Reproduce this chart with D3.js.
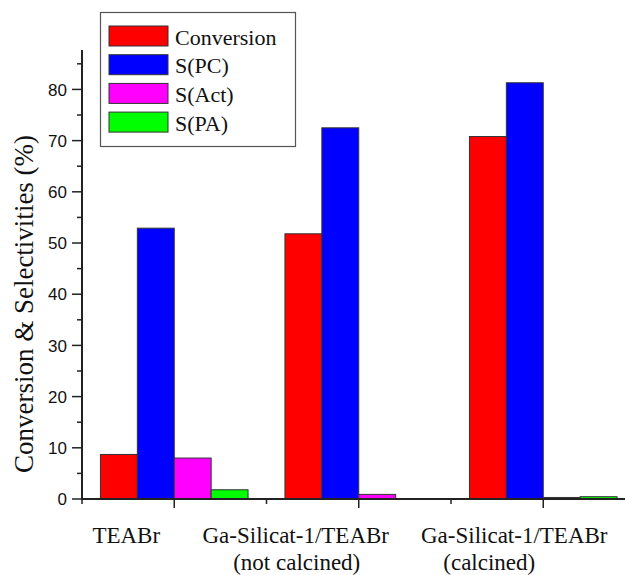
<!DOCTYPE html>
<html>
<head>
<meta charset="utf-8">
<script src="https://cdn.jsdelivr.net/npm/d3@7"></script>
<style>
  html, body { margin: 0; padding: 0; background: #fff; }
  svg { display: block; }
  .serif { font-family: "Liberation Serif", "Times New Roman", Times, serif; }
  .sans { font-family: "Liberation Sans", Arial, Helvetica, sans-serif; }
</style>
</head>
<body>
<svg id="chart" width="625" height="575"></svg>
<script>
// Catalysts (x categories), two-line labels
const categories = ["TEABr", "Ga-Silicat-1/TEABr", "Ga-Silicat-1/TEABr"];
const categorySubLabels = ["", "(not calcined)", "(calcined)"];

// Series names and colours
const seriesNames = ["Conversion", "S(PC)", "S(Act)", "S(PA)"];
const seriesColors = ["#ff0000", "#0000ff", "#ff00ff", "#00ff00"];

// Values (%) per series, one per catalyst
const conversion = [8.7, 51.8, 70.8];
const selPC = [52.9, 72.5, 81.3];
const selAct = [8.0, 0.9, 0.3];
const selPA = [1.8, 0.0, 0.45];

// Y axis ticks
const yMajorTicks = [0, 10, 20, 30, 40, 50, 60, 70, 80];
const yMinorTicks = [5, 15, 25, 35, 45, 55, 65, 75, 85];

const seriesValues = [conversion, selPC, selAct, selPA];

const svg = d3.select("#chart");

const x = d3.scaleLinear().domain([0.5, 3.5]).range([82, 635.5]);
const y = d3.scaleLinear().domain([0, 87.7]).range([499, 50]);

const barW = 0.2;
const axisColor = "#222";

// Bars
const bars = [];
seriesValues.forEach((vals, j) => {
  vals.forEach((v, i) => {
    bars.push({ cat: i + 1, s: j, v: v });
  });
});

svg.append("g")
  .selectAll("rect")
  .data(bars.filter(d => d.v > 0))
  .join("rect")
  .attr("x", d => x(d.cat - 0.4 + barW * d.s))
  .attr("width", d => x(barW) - x(0))
  .attr("y", d => y(d.v))
  .attr("height", d => y(0) - y(d.v))
  .attr("fill", d => seriesColors[d.s])
  .attr("stroke", "#333")
  .attr("stroke-width", 1);

// Y axis
const yAxis = svg.append("g").attr("transform", `translate(${x(0.5)},0)`);
yAxis.append("line")
  .attr("x1", 0).attr("x2", 0)
  .attr("y1", y.range()[1]).attr("y2", y(0) + 1)
  .attr("stroke", axisColor).attr("stroke-width", 2);
yAxis.selectAll(".ymaj").data(yMajorTicks).join("line")
  .attr("x1", -10).attr("x2", 0)
  .attr("y1", d => y(d)).attr("y2", d => y(d))
  .attr("stroke", axisColor).attr("stroke-width", 1.5);
yAxis.selectAll(".ymin").data(yMinorTicks).join("line")
  .attr("x1", -5).attr("x2", 0)
  .attr("y1", d => y(d)).attr("y2", d => y(d))
  .attr("stroke", axisColor).attr("stroke-width", 1.5);
yAxis.selectAll("text").data(yMajorTicks).join("text")
  .attr("class", "sans")
  .attr("x", -15)
  .attr("y", d => y(d))
  .attr("dy", "0.36em")
  .attr("text-anchor", "end")
  .attr("font-size", 17)
  .attr("fill", "#111")
  .text(d => d);

// X axis
const xAxis = svg.append("g").attr("transform", `translate(0,${y(0)})`);
xAxis.append("line")
  .attr("x1", x(0.5) - 1).attr("x2", x(3.5))
  .attr("y1", 0).attr("y2", 0)
  .attr("stroke", axisColor).attr("stroke-width", 2);
xAxis.selectAll(".xmaj").data([1, 2, 3]).join("line")
  .attr("x1", d => x(d)).attr("x2", d => x(d))
  .attr("y1", 0).attr("y2", 9)
  .attr("stroke", axisColor).attr("stroke-width", 1.5);
xAxis.selectAll(".xmin").data([0.5, 1.5, 2.5, 3.5]).join("line")
  .attr("x1", d => x(d)).attr("x2", d => x(d))
  .attr("y1", 0).attr("y2", 5)
  .attr("stroke", axisColor).attr("stroke-width", 1.5);

// Category labels, placed as hand-positioned text blocks left of each tick
const mainShift = [-48, -63, -29];
const subShift = [0, -62, -54];
const xLabels = svg.append("g")
  .attr("class", "serif")
  .attr("font-size", 23)
  .attr("fill", "#111")
  .attr("text-anchor", "middle");
categories.forEach((c, i) => {
  xLabels.append("text")
    .attr("x", x(i + 1) + mainShift[i]).attr("y", 543)
    .text(c);
  if (categorySubLabels[i]) {
    xLabels.append("text")
      .attr("x", x(i + 1) + subShift[i]).attr("y", 570)
      .text(categorySubLabels[i]);
  }
});

// Y axis title
svg.append("text")
  .attr("class", "serif")
  .attr("transform", `translate(33,${304}) rotate(-90)`)
  .attr("text-anchor", "middle")
  .attr("font-size", 27)
  .attr("fill", "#111")
  .text("Conversion & Selectivities (%)");

// Legend
const legend = svg.append("g");
legend.append("rect")
  .attr("x", 100.5).attr("y", 12.5)
  .attr("width", 195).attr("height", 134)
  .attr("fill", "#fff")
  .attr("stroke", "#555").attr("stroke-width", 1.2);
seriesNames.forEach((name, j) => {
  const cy = 36 + j * 28.7;
  legend.append("rect")
    .attr("x", 109).attr("y", cy - 10)
    .attr("width", 59).attr("height", 20)
    .attr("fill", seriesColors[j])
    .attr("stroke", "#333").attr("stroke-width", 1);
  legend.append("text")
    .attr("class", "serif")
    .attr("x", 175).attr("y", cy + 8.5)
    .attr("font-size", 22)
    .attr("fill", "#111")
    .text(name);
});
</script>
</body>
</html>
